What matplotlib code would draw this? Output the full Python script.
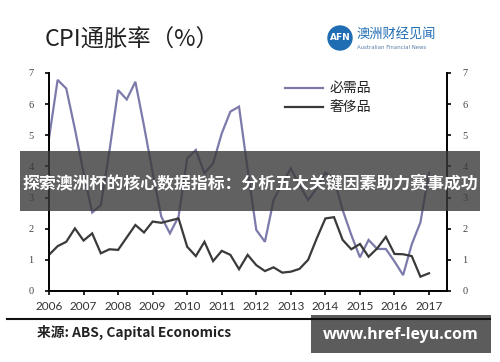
import numpy as np
import matplotlib
matplotlib.use('Agg')
import matplotlib.pyplot as plt
from matplotlib.patches import Rectangle, Ellipse
from matplotlib.lines import Line2D

cjk = ['Noto Sans CJK SC', 'DejaVu Sans']
plt.rcParams['font.family'] = cjk

# quarterly CPI inflation (%), 2006Q1 .. 2017Q1
necessities = [4.9, 6.78, 6.5, 5.2, 3.8, 2.52, 2.76, 4.5, 6.45, 6.15, 6.72, 5.3,
               3.8, 2.39, 1.85, 2.39, 4.26, 4.53, 3.78, 4.1, 5.06, 5.76, 5.92, 3.9,
               1.96, 1.58, 2.92, 3.45, 3.94, 3.4, 2.92, 3.3, 3.8, 3.6, 2.6, 1.8,
               1.08, 1.64, 1.35, 1.35, 0.95, 0.51, 1.5, 2.2, 3.8]
luxury = [1.16, 1.44, 1.58, 2.01, 1.62, 1.85, 1.21, 1.34, 1.32, 1.72, 2.12, 1.88,
          2.23, 2.19, 2.26, 2.33, 1.42, 1.12, 1.58, 0.96, 1.29, 1.16, 0.7, 1.16,
          0.83, 0.64, 0.76, 0.59, 0.62, 0.71, 1.0, 1.69, 2.33, 2.37, 1.64, 1.34,
          1.51, 1.1, 1.37, 1.74, 1.19, 1.18, 1.12, 0.46, 0.57]
years = list(range(2006, 2018))
y_ticks = list(range(0, 8))
series_names = ['必需品', '奢侈品']

W, H = 500, 362
quarters = 2006 + 0.25 * np.arange(len(necessities))
purple = '#7c7aaa'
dark = '#3a3a3a'


def fx(px):
    return px / W


def fy(py):
    return 1 - py / H


fig = plt.figure(figsize=(W / 100, H / 100), dpi=100)
fig.patch.set_facecolor('white')

ax = fig.add_axes([fx(49), fy(291), fx(447 - 49), (291 - 73) / H])
ax.plot(quarters, necessities, color=purple, lw=1.6, solid_joinstyle='miter')
ax.plot(quarters, luxury, color=dark, lw=1.6, solid_joinstyle='miter')
ax.set_xlim(2006, 2017.52)
ax.set_ylim(0, 7)

for s in ['left', 'right', 'bottom']:
    ax.spines[s].set_linewidth(1.4)
    ax.spines[s].set_color('black')
ax.spines['top'].set_visible(False)

ax.set_xticks(years)
ax.set_xticklabels([str(y) for y in years], family='Lato', fontsize=8.5, color='#333333')
ax.set_yticks(y_ticks)
ax.set_yticklabels([str(v) for v in y_ticks], family='Liberation Serif', fontsize=7.5,
                   color='#444444')
ax.tick_params(axis='x', direction='out', length=3, width=1.2, pad=4)
ax.tick_params(axis='y', direction='out', length=3, width=1.2, pad=8,
               right=True, labelright=True)

# legend drawn by hand like the original
for i, (name, col) in enumerate(zip(series_names, [purple, dark])):
    yy = 88 + i * 19
    fig.add_artist(Line2D([fx(285), fx(323)], [fy(yy), fy(yy)], color=col, lw=1.6))
    fig.text(fx(330), fy(yy), name, fontsize=10, color='#222222', va='center',
             ha='left', fontweight='medium')

# title and logo
fig.text(fx(45), fy(40), 'CPI通胀率（%）', fontsize=16.8, color='#222222', va='center')
fig.add_artist(Ellipse((fx(340), fy(38)), 24 / W, 24 / H, color='#1f6db3',
                       transform=fig.transFigure))
fig.text(fx(340), fy(38), 'AFN', fontsize=6.5, color='white', ha='center', va='center',
         family='DejaVu Sans', fontweight='bold')
fig.text(fx(357), fy(35), '澳洲财经见闻', fontsize=9.5, color='#1f6db3', va='center')
fig.text(fx(357), fy(47.5), 'Australian Financial News', fontsize=3.9, color='#5a7fa8',
         va='center', family='DejaVu Sans')

# overlay banner
fig.add_artist(Rectangle((fx(20), fy(211)), fx(460), 60 / H, transform=fig.transFigure,
                         facecolor='#3a3a3a', alpha=0.8, edgecolor='none'))
fig.text(fx(250), fy(183), '探索澳洲杯的核心数据指标：分析五大关键因素助力赛事成功',
         fontsize=12.2, color='white', fontweight='bold', ha='center', va='center')

# footer
fig.add_artist(Line2D([fx(7), fx(490)], [fy(319), fy(319)], color='#111111', lw=1.5))
fig.text(fx(37), fy(332), '来源: ABS, Capital Economics', fontsize=9.9, color='#222222',
         fontweight='bold', va='center')
fig.add_artist(Rectangle((fx(311), fy(353)), fx(180), 38 / H, transform=fig.transFigure,
                         facecolor='#4a4a4a', alpha=0.9, edgecolor='none'))
fig.text(fx(401), fy(335), 'www.href-leyu.com', fontsize=11.5, color='white',
         fontweight='bold', family='Open Sans', ha='center', va='center')

fig.savefig('out.png', dpi=100)
